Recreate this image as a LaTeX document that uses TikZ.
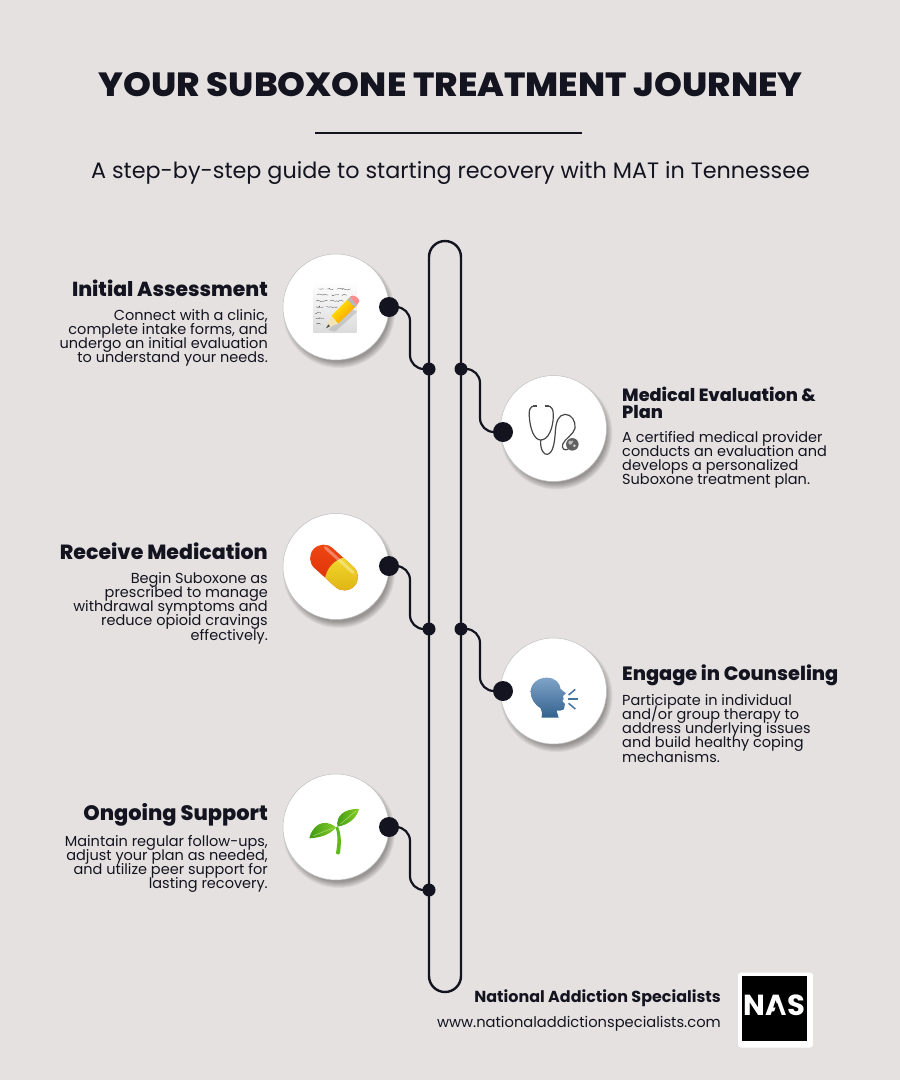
\documentclass[tikz,border=0pt]{standalone}
\usepackage{fontspec}
\setmainfont{Poppins}
\newfontfamily\heavy{Poppins ExtraBold}
\newfontfamily\boldf{Poppins Bold}
\usetikzlibrary{decorations.pathmorphing}
\definecolor{bg}{HTML}{E5E1E0}
\definecolor{ink}{HTML}{13141F}
\definecolor{headtop}{HTML}{7FA3C7}
\definecolor{headbot}{HTML}{33628F}
\definecolor{speech}{HTML}{44729F}
\definecolor{leafdark}{HTML}{3F9A12}
\definecolor{leaflight}{HTML}{86CC28}
\definecolor{stemg}{HTML}{5FB81E}
\definecolor{capy}{HTML}{FBE93A}
\definecolor{capyd}{HTML}{DDB010}
\definecolor{capr}{HTML}{F04A12}
\definecolor{caprd}{HTML}{D92A08}
\normallineskiplimit=-30pt
\lineskiplimit=-30pt
\tikzset{
  rail/.style={draw=ink,line width=2.4pt,rounded corners=16pt,minimum width=32pt,minimum height=751pt,inner sep=0pt},
  disc/.style={circle,fill=white,draw=black!25,line width=.5pt,minimum size=106pt,inner sep=0pt},
  bigdot/.style={circle,fill=ink,minimum size=20pt,inner sep=0pt},
  smalldot/.style={circle,fill=ink,minimum size=13pt,inner sep=0pt},
  link/.style={draw=ink,line width=2.2pt,rounded corners=14pt},
  head/.style={text=ink,inner sep=0pt},
  bodyt/.style={font=\fontsize{14.5}{14.2}\selectfont,text=ink,inner sep=0pt},
  scrib/.style={draw=black!65,line width=.35pt,decorate,decoration={random steps,segment length=1.4pt,amplitude=1pt}},
  tube/.style={draw=black!72,line width=1.2pt},
}
\newcommand\hd[1]{\fontsize{#1}{#1}\selectfont\heavy}
\newcommand\discshadow[2]{%
  \foreach \rr in {56,55,54,53,52,51,50}{\fill[black,opacity=.055] (#1+3,#2+5) circle [radius=\rr pt];}}
\begin{document}
\begin{tikzpicture}[x=1pt,y=-1pt]
\useasboundingbox (0,0) rectangle (900,1080);
\fill[bg] (0,0) rectangle (900,1080);
% header
\node[font=\hd{33.5},text=ink,inner sep=0pt,anchor=base] (title) at (450.5,96) {\scalebox{1.059}[1]{YOUR SUBOXONE TREATMENT JOURNEY}};
\node[fill=ink,minimum width=267pt,minimum height=2pt,inner sep=0pt] (rule) at (448.5,132.5) {};
\node[font=\fontsize{22.3}{24}\selectfont,text=ink,inner sep=0pt,anchor=base] (sub) at (450.5,178) {A step-by-step guide to starting recovery with MAT in Tennessee};
% rail
\node[rail] (rail) at (445,616.5) {};
% shadows and discs
\discshadow{336}{307}\discshadow{553.5}{428.5}\discshadow{336}{567}\discshadow{553.5}{691}\discshadow{336}{827}
\node[disc] (c1) at (336,307) {};
\node[disc] (c2) at (553.5,428.5) {};
\node[disc] (c3) at (336,566.5) {};
\node[disc] (c4) at (553.5,691) {};
\node[disc] (c5) at (336,827) {};
% dots
\node[bigdot] (d1) at (389,307) {};
\node[bigdot] (d2) at (503,432) {};
\node[bigdot] (d3) at (389,566) {};
\node[bigdot] (d4) at (503,691) {};
\node[bigdot] (d5) at (389,827) {};
\node[smalldot] (s1) at (429,369) {};
\node[smalldot] (s2) at (461,369) {};
\node[smalldot] (s3) at (429,629) {};
\node[smalldot] (s4) at (461,629) {};
\node[smalldot] (s5) at (429,890) {};
\coordinate (m1) at (410,338);
\coordinate (m2) at (480,400);
\coordinate (m3) at (410,598);
\coordinate (m4) at (480,660);
\coordinate (m5) at (410,858);
\draw[link] (d1.center) -| (m1) |- (s1.center);
\draw[link] (s2.center) -| (m2) |- (d2.center);
\draw[link] (d3.center) -| (m3) |- (s3.center);
\draw[link] (s4.center) -| (m4) |- (d4.center);
\draw[link] (d5.center) -| (m5) |- (s5.center);
% icon 1: paper and pencil
\begin{scope}[shift={(300,275)},x=.3333pt,y=-.3333pt]
  \shade[top color=white,bottom color=black!14] (40,20) rectangle (170,172);
  \foreach \yy/\xa/\xb in {42/55/72,42/80/100,42/110/152,60/50/85,60/95/118,60/125/140,78/48/82,78/90/130,95/48/70,95/78/112,115/46/62,130/48/72,148/50/62}
    \draw[scrib] (\xa,\yy) -- (\xb,\yy);
  \fill[black!35,opacity=.45] (85,165) -- (150,100) -- (172,110) -- (105,170) -- cycle;
  % pencil body
  \shade[left color=yellow!90!orange,right color=orange!85!yellow,shading angle=45] (94,122) -- (148,68) -- (170,92) -- (114,146) -- cycle;
  \fill[black!28] (142,74) -- (152,64) -- (174,86) -- (164,97) -- cycle;
  \fill[red!45!white] (150,65) .. controls (160,55) and (180,70) .. (178,80) -- (170,90) -- cycle;
  \fill[yellow!40!brown!35!white] (94,122) -- (114,146) -- (78,160) -- cycle;
  \fill[black!70] (85,148) -- (90,154) -- (78,160) -- cycle;
\end{scope}
% icon 2: stethoscope
\begin{scope}[shift={(520,395)},x=.3333pt,y=-.3333pt]
  \draw[tube] (45,32) .. controls (28,34) and (26,48) .. (28,65) .. controls (30,100) and (42,135) .. (62,135) .. controls (85,135) and (100,100) .. (100,60) .. controls (100,44) and (96,33) .. (80,32);
  \draw[tube] (62,135) .. controls (60,165) and (72,180) .. (82,178) .. controls (100,175) and (104,140) .. (106,110) .. controls (108,80) and (115,60) .. (135,58) .. controls (155,57) and (168,80) .. (165,100) .. controls (160,120) and (135,130) .. (128,148) .. controls (124,162) and (135,168) .. (145,162);
  \fill[black!70] (38,29) rectangle (50,35);
  \fill[black!70] (74,29) rectangle (86,35);
  \fill[black!62] (157,148) circle [radius=6.3pt];
  \fill[black!25] (151,143) circle [radius=2pt];
  \fill[black!20] (163,152) circle [radius=1.5pt];
  \fill[black!30] (157,140) circle [radius=1.2pt];
\end{scope}
% icon 3: capsule
\begin{scope}[shift={(334,567.5)},rotate=-42]
  \shade[top color=capr,bottom color=caprd,rounded corners=13.5pt] (-27.5,-13.5) rectangle (27.5,13.5);
  \begin{scope}
    \clip (1,-15) .. controls (-5,-5) and (-5,5) .. (1,15) -- (30,15) -- (30,-15) -- cycle;
    \shade[top color=capy,middle color=capy,bottom color=capyd,rounded corners=13.5pt] (-27.5,-13.5) rectangle (27.5,13.5);
  \end{scope}
  \fill[white,opacity=.35,rounded corners=2pt] (-21,-10.5) rectangle (19,-7.5);
\end{scope}
% icon 4: speaking head
\begin{scope}[shift={(270,500)},x=.3333pt,y=-.3333pt]
  \shade[top color=headtop,bottom color=headbot] (815,653) .. controls (816,640) and (817,633) .. (812,625) .. controls (792,612) and (782,595) .. (782,575) .. controls (782,550) and (805,533) .. (830,533) .. controls (855,533) and (870,548) .. (872,567) -- (888,580) -- (879,588) -- (881,597) -- (877,603) -- (885,612) -- (882,628) .. controls (875,634) and (865,632) .. (860,632) -- (866,653) -- cycle;
  \draw[speech,line width=1.5pt] (896,585) -- (916,568);
  \draw[speech,line width=1.5pt] (894,597) -- (923,597);
  \draw[speech,line width=1.5pt] (896,610) -- (916,627);
\end{scope}
% icon 5: sprout
\begin{scope}[shift={(300,795)},x=.3333pt,y=-.3333pt]
  \fill[stemg] (106,97) .. controls (116,120) and (112,150) .. (108,175) .. controls (110,180) and (118,180) .. (120,175) .. controls (124,145) and (124,115) .. (114,95) -- cycle;
  \shade[left color=leafdark,right color=leaflight] (28,130) .. controls (35,95) and (70,65) .. (108,97) .. controls (90,120) and (60,128) .. (28,130) -- cycle;
  \shade[left color=leafdark,right color=leaflight] (112,95) .. controls (108,65) and (130,40) .. (177,42) .. controls (170,70) and (145,90) .. (112,95) -- cycle;
  \draw[leaflight!50!white,line width=.35pt] (40,122) -- (102,98);
  \draw[leaflight!50!white,line width=.35pt] (120,88) -- (168,48);
\end{scope}
% left texts
\node[head,anchor=base east,font=\hd{20.3}] (h1) at (268,296) {Initial Assessment};
\node[bodyt,anchor=north east,align=right] (b1) at (268,309) {Connect with a clinic,\\complete intake forms, and\\undergo an initial evaluation\\to understand your needs.};
\node[head,anchor=base east,font=\hd{20.5}] (h3) at (268,559) {Receive Medication};
\node[bodyt,anchor=north east,align=right] (b3) at (268,572) {Begin Suboxone as\\prescribed to manage\\withdrawal symptoms and\\reduce opioid cravings\\effectively.};
\node[head,anchor=base east,font=\hd{20.9}] (h5) at (268,820) {Ongoing Support};
\node[bodyt,anchor=north east,align=right] (b5) at (268,835) {Maintain regular follow-ups,\\adjust your plan as needed,\\and utilize peer support for\\lasting recovery.};
% right texts
\node[head,anchor=base west,font=\hd{17.7}] (h2) at (622,401) {Medical Evaluation \&};
\node[head,anchor=base west,font=\hd{17.7}] (h2b) at (622,418) {Plan};
\node[bodyt,anchor=north west,align=left] (b2) at (622,431) {A certified medical provider\\conducts an evaluation and\\develops a personalized\\Suboxone treatment plan.};
\node[head,anchor=base west,font=\hd{19.3}] (h4) at (622,680) {Engage in Counseling};
\node[bodyt,anchor=north west,align=left] (b4) at (622,694) {Participate in individual\\and/or group therapy to\\address underlying issues\\and build healthy coping\\mechanisms.};
% footer
\node[font=\boldf\fontsize{15.95}{18}\selectfont,text=ink,inner sep=0pt,anchor=base east] (f1) at (721,1002) {National Addiction Specialists};
\node[font=\fontsize{14.7}{18}\selectfont,text=ink,inner sep=0pt,anchor=base east] (f2) at (721,1027) {www.nationaladdictionspecialists.com};
\node[fill=white,rounded corners=3pt,minimum width=75pt,minimum height=75pt,inner sep=0pt] (logobg) at (775.5,1010) {};
\node[fill=black,minimum width=65pt,minimum height=65pt,inner sep=0pt] (logo) at (774.5,1008.5) {};
\node[font=\boldf\fontsize{29}{31}\selectfont,text=white,inner sep=0pt,anchor=base] (nas) at (774.5,1015.5) {NAS};
\fill[black] (777.3,1003) -- (772.5,1016) -- (782,1016) -- cycle;
\end{tikzpicture}
\end{document}
